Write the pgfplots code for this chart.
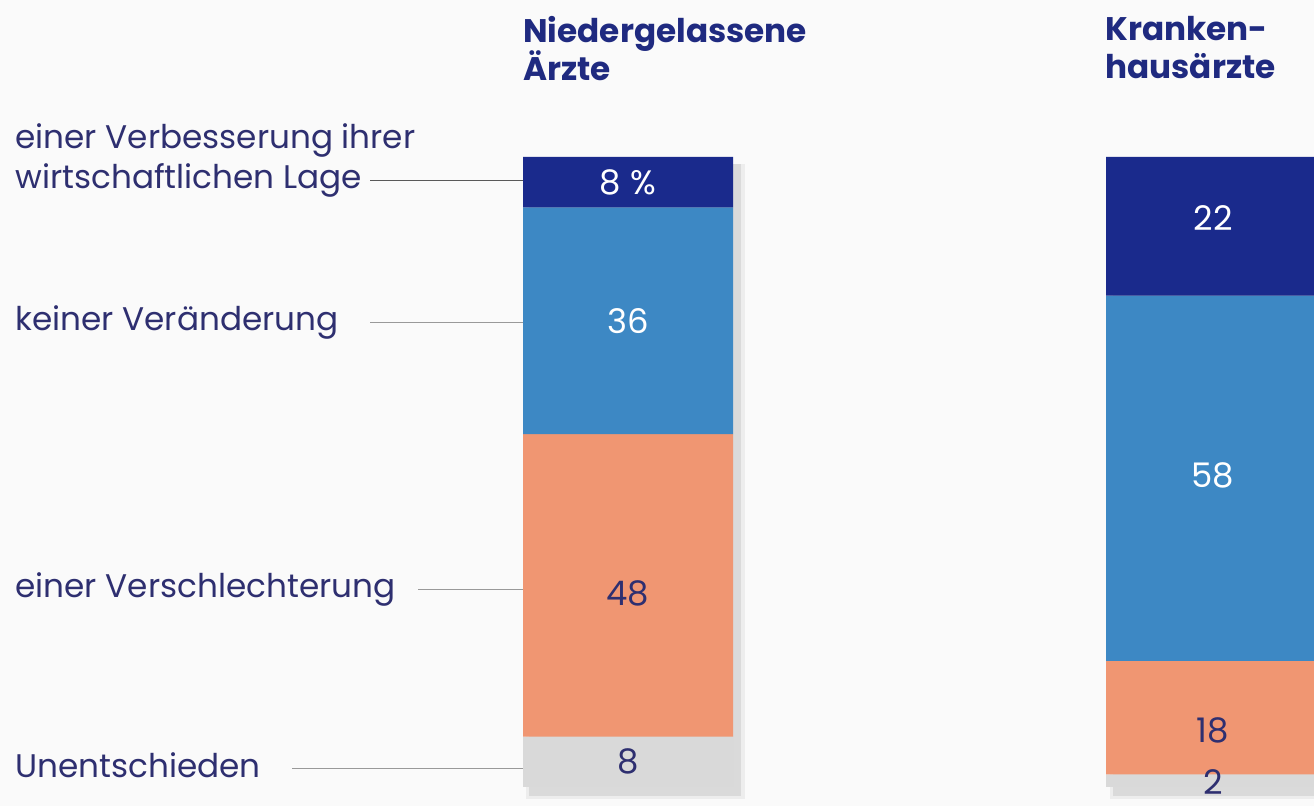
\documentclass[border=0pt]{standalone}
\usepackage{pgfplots}
\pgfplotsset{compat=1.18}
\usepackage{fontspec}
\setmainfont{Poppins}
\definecolor{bg}{HTML}{FAFAFA}
\definecolor{cA}{HTML}{1A2A8C}
\definecolor{cB}{HTML}{3D88C4}
\definecolor{cC}{HTML}{F09672}
\definecolor{cD}{HTML}{D9D9D9}
\definecolor{txt}{HTML}{2E2F70}
\definecolor{ttl}{HTML}{1F2A80}
\lineskiplimit=-20pt
\begin{document}
\begin{tikzpicture}
\fill[bg] (0,0) rectangle (657bp,403bp);
% soft shadows behind the bars
\fill[black, opacity=0.05] (263bp,3.5bp) rectangle (372.5bp,321bp);
\fill[black, opacity=0.08] (264.5bp,5bp) rectangle (370.5bp,321bp);
\fill[black, opacity=0.05] (555bp,3.5bp) rectangle (657bp,321bp);
\fill[black, opacity=0.08] (556.5bp,5bp) rectangle (657bp,321bp);
\begin{axis}[
  at={(0,0)}, anchor=south west,
  scale only axis, width=657bp, height=403bp,
  xmin=0, xmax=1314, ymin=-24.92, ymax=103.02,
  y dir=reverse,
  axis lines=none, ticks=none,
  ybar stacked, bar width=210,
  clip=true,
]
\addplot[fill=cA, draw=none] coordinates {(628,8) (1211,22)};
\addplot[fill=cB, draw=none] coordinates {(628,36) (1211,58)};
\addplot[fill=cC, draw=none] coordinates {(628,48) (1211,18)};
\addplot[fill=cD, draw=none] coordinates {(628,8) (1211,2)};
% titles
\node[anchor=north west, inner sep=0, align=left, text=ttl, font=\bfseries\fontsize{16.4}{19}\selectfont] at (axis cs:523,-22.4) {Niedergelassene\\Ärzte};
\node[anchor=north west, inner sep=0, align=left, text=ttl, font=\bfseries\fontsize{16.4}{19}\selectfont] at (axis cs:1105,-22.4) {Kranken-\\hausärzte};
% category labels
\node[anchor=west, inner sep=0, align=left, text=txt, font=\fontsize{16.4}{20}\selectfont] at (axis cs:15,0.6) {einer Verbesserung ihrer\\wirtschaftlichen Lage};
\node[anchor=west, inner sep=0, align=left, text=txt, font=\fontsize{16.4}{20}\selectfont] at (axis cs:15,26.3) {keiner Veränderung};
\node[anchor=west, inner sep=0, align=left, text=txt, font=\fontsize{16.4}{20}\selectfont] at (axis cs:15,68.7) {einer Verschlechterung};
\node[anchor=west, inner sep=0, align=left, text=txt, font=\fontsize{16.4}{20}\selectfont] at (axis cs:15,96.5) {Unentschieden};
\draw[black!65, line width=0.5pt] (axis cs:370,3.8) -- (axis cs:523,3.8);
\draw[black!40, line width=0.5pt] (axis cs:370,26.3) -- (axis cs:550,26.3);
\draw[black!40, line width=0.5pt] (axis cs:418,68.7) -- (axis cs:550,68.7);
\draw[black!40, line width=0.5pt] (axis cs:292,97) -- (axis cs:550,97);
% anchor points for value labels
\coordinate (l1) at (axis cs:628,4);
\coordinate (l2) at (axis cs:628,26);
\coordinate (l3) at (axis cs:628,69.2);
\coordinate (l4) at (axis cs:628,96);
\coordinate (r1) at (axis cs:1213,9.7);
\coordinate (r2) at (axis cs:1213,50.5);
\coordinate (r3) at (axis cs:1213,91);
\coordinate (r4) at (axis cs:1213,99.2);
\end{axis}
\begin{scope}[every node/.style={inner sep=0, font=\fontsize{17}{18}\selectfont}]
\node[text=white] at (l1) {8 \%};
\node[text=white] at (l2) {36};
\node[text=txt] at (l3) {48};
\node[text=txt] at (l4) {8};
\node[text=white] at (r1) {22};
\node[text=white] at (r2) {58};
\node[text=txt] at (r3) {18};
\node[text=txt] at (r4) {2};
\end{scope}
\end{tikzpicture}
\end{document}
